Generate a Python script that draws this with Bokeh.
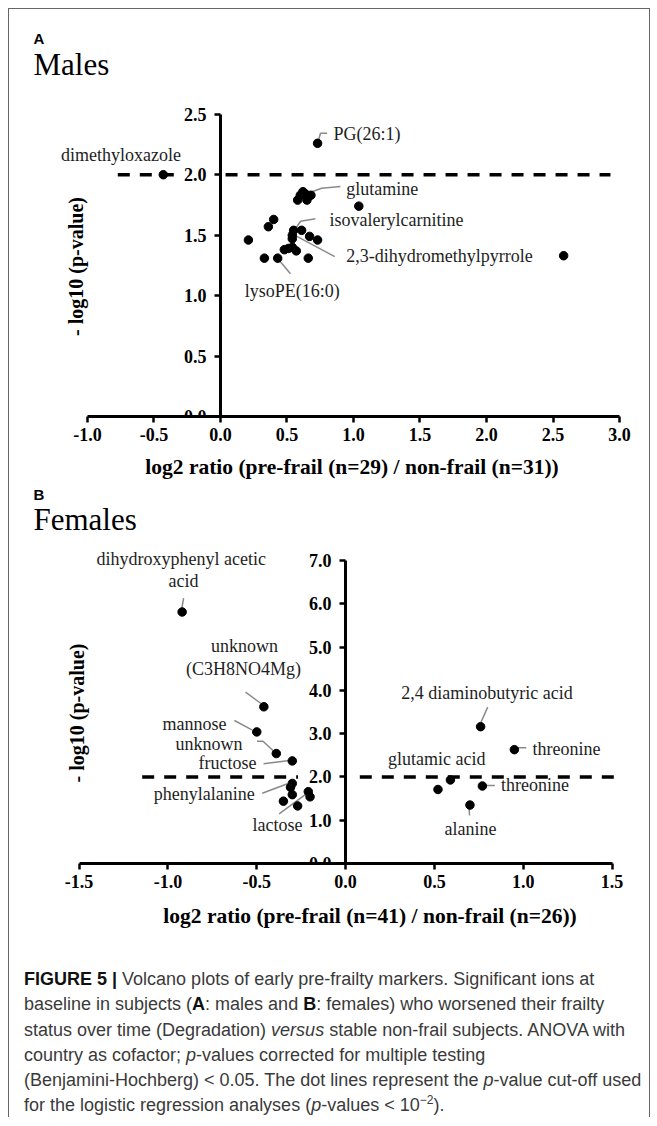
import math
from bokeh.plotting import figure
from bokeh.models import (Range1d, LinearAxis, FixedTicker, PrintfTickFormatter,
                          Label, Div, ColumnDataSource)
from bokeh.layouts import column
from bokeh.core.properties import value
from bokeh.embed import file_html
from bokeh.resources import INLINE

# ---------------- data ----------------
cutoff = 2.0  # -log10(0.01)

# Panel A: males, log2 ratio pre-frail (n=29) / non-frail (n=31)
males_log2 = [-0.43, 0.73, 0.62, 0.64, 0.68, 0.58, 0.65, 0.60, 1.04, 0.40, 0.36,
              0.21, 0.55, 0.54, 0.61, 0.67, 0.73, 0.51, 0.48, 0.57, 0.54, 0.33,
              0.43, 0.66, 2.58, 0.54]
males_nlogp = [2.00, 2.26, 1.86, 1.84, 1.83, 1.79, 1.79, 1.83, 1.74, 1.63, 1.57,
               1.46, 1.54, 1.50, 1.54, 1.49, 1.46, 1.39, 1.38, 1.37, 1.40, 1.31,
               1.31, 1.31, 1.33, 1.47]

# Panel B: females, log2 ratio pre-frail (n=41) / non-frail (n=26)
females_log2 = [-0.92, -0.46, -0.50, -0.39, -0.30, -0.30, -0.31, -0.30, -0.35,
                -0.27, -0.21, -0.20, 0.76, 0.95, 0.59, 0.52, 0.77, 0.70]
females_nlogp = [5.81, 3.62, 3.04, 2.54, 2.37, 1.85, 1.76, 1.59, 1.44,
                 1.33, 1.66, 1.54, 3.16, 2.63, 1.93, 1.71, 1.79, 1.35]

ticks_A_x = [-1.0, -0.5, 0.0, 0.5, 1.0, 1.5, 2.0, 2.5, 3.0]
ticks_A_y = [0.0, 0.5, 1.0, 1.5, 2.0, 2.5]
ticks_B_x = [-1.5, -1.0, -0.5, 0.0, 0.5, 1.0, 1.5]
ticks_B_y = [0.0, 1.0, 2.0, 3.0, 4.0, 5.0, 6.0, 7.0]

title_A = "Males"
title_B = "Females"
xlabel_A = "log2 ratio (pre-frail (n=29) / non-frail (n=31))"
xlabel_B = "log2 ratio (pre-frail (n=41) / non-frail (n=26))"
ylabel = "- log10 (p-value)"

# annotation labels: text, x, y, align, leader-line xs, leader-line ys
labels_A = [
    ("PG(26:1)", 0.850, 2.341, "left", [0.738, 0.752, 0.802], [2.29, 2.343, 2.343]),
    ("dimethyloxazole", -0.748, 2.167, "center", None, None),
    ("glutamine", 0.945, 1.878, "left", [0.647, 0.76, 0.902], [1.842, 1.888, 1.902]),
    ("isovalerylcarnitine", 0.820, 1.629, "left", [0.564, 0.602, 0.714], [1.553, 1.615, 1.635]),
    ("2,3-dihydromethylpyrrole", 0.945, 1.326, "left", [0.539, 0.859], [1.511, 1.323]),
    ("lysoPE(16:0)", 0.539, 1.042, "center", [0.438, 0.526], [1.296, 1.180]),
]
labels_B = [
    ("dihydroxyphenyl  acetic", -0.912, 7.039, "center", [-0.921, -0.912], [5.907, 6.128]),
    ("acid", -0.912, 6.537, "center", None, None),
    ("unknown", -0.569, 5.013, "center", None, None),
    ("(C3H8NO4Mg)", -0.575, 4.498, "center", [-0.563, -0.469], [3.957, 3.673]),
    ("mannose", -0.670, 3.227, "right", [-0.626, -0.527], [3.303, 3.088]),
    ("unknown", -0.580, 2.765, "right", [-0.499, -0.465, -0.398], [2.825, 2.825, 2.571]),
    ("fructose", -0.501, 2.326, "right", [-0.462, -0.316], [2.303, 2.379]),
    ("phenylalanine", -0.511, 1.610, "right", [-0.469, -0.327], [1.624, 1.841]),
    ("lactose", -0.383, 0.878, "center", [-0.374, -0.221], [1.148, 1.610]),
    ("2,4 diaminobutyric acid", 0.796, 3.943, "center", [0.800, 0.762], [3.611, 3.264]),
    ("threonine", 1.052, 2.650, "left", [0.962, 1.017], [2.673, 2.673]),
    ("glutamic acid", 0.513, 2.419, "center", None, None),
    ("threonine", 0.875, 1.802, "left", [0.769, 0.840], [1.802, 1.802]),
    ("alanine", 0.703, 0.802, "center", [0.694, 0.698], [1.317, 1.109]),
]
cut_segments_A = [(-0.772, -0.331), (0.038, 2.932)]
cut_segments_B = [(-1.145, -0.268), (0.08, 1.512)]

SERIF = "Liberation Serif"
SANS = "Liberation Sans"


def style_axis(ax, ticks, standoff):
    ax.ticker = FixedTicker(ticks=ticks)
    ax.formatter = PrintfTickFormatter(format="%.1f")
    ax.axis_line_width = 3
    ax.axis_line_color = "black"
    ax.major_tick_line_width = 2.5
    ax.major_tick_line_color = "black"
    ax.major_tick_in = 0
    ax.major_tick_out = 6
    ax.minor_tick_line_color = None
    ax.major_label_text_font = SERIF
    ax.major_label_text_font_style = "bold"
    ax.major_label_text_font_size = "18px"
    ax.major_label_text_color = "black"
    ax.major_label_standoff = standoff


def make_panel(frame_h, xr, yr, xb, yb, xt, yt):
    p = figure(frame_width=598, frame_height=frame_h,
               x_range=Range1d(*xr), y_range=Range1d(*yr),
               output_backend="svg", toolbar_location=None,
               x_axis_location=None, y_axis_location=None,
               min_border_left=41, min_border_right=1,
               min_border_top=0, min_border_bottom=34)
    p.grid.visible = False
    p.outline_line_color = None
    p.background_fill_color = "white"
    p.border_fill_color = "white"
    ya = LinearAxis(fixed_location=0, bounds=yb)
    style_axis(ya, yt, 8)
    p.add_layout(ya, "left")
    xa = LinearAxis(bounds=xb)
    style_axis(xa, xt, 5)
    p.add_layout(xa, "below")
    return p


def add_content(p, xs, ys, labels, segs, ylab_x, ylab_y):
    for (a, b) in segs:
        p.line([a, b], [cutoff, cutoff], line_color="black", line_width=3.5, line_dash="12 10")
    lx = [l[4] for l in labels if l[4] is not None]
    ly = [l[5] for l in labels if l[5] is not None]
    p.multi_line(lx, ly, line_color="#8a8a8a", line_width=1.5)
    p.scatter(xs, ys, marker="circle", size=8.5, fill_color="black", line_color="black")
    for align in ("left", "right", "center"):
        sel = [l for l in labels if l[3] == align]
        if not sel:
            continue
        src = ColumnDataSource(dict(x=[l[1] for l in sel], y=[l[2] for l in sel],
                                    t=[l[0] for l in sel]))
        p.text(x="x", y="y", text="t", source=src, text_align=align,
               text_baseline="middle", text_font=value(SERIF),
               text_font_size="18px", text_color="#1e1e1e")
    p.add_layout(Label(x=ylab_x, y=ylab_y, text=ylabel, text_font=SERIF,
                       text_font_size="20px", text_font_style="bold",
                       angle=math.pi / 2, text_align="center",
                       text_baseline="middle", text_color="black"))


# ---------------- panel A ----------------
pA = make_panel(316, (-1.278, 3.218), (0.0, 2.614),
                (-1.0, 3.0), (0.0, 2.5), ticks_A_x, ticks_A_y)
add_content(pA, males_log2, males_nlogp, labels_A, cut_segments_A, -1.087, 1.241)

# ---------------- panel B ----------------
pB = make_panel(323, (-1.661, 1.705), (0.0, 7.461),
                (-1.5, 1.5), (0.0, 7.0), ticks_B_x, ticks_B_y)
add_content(pB, females_log2, females_nlogp, labels_B, cut_segments_B, -1.511, 3.477)


# ---------------- html text blocks ----------------
def span(text, left, top, font, size, bold=False, center=False):
    tx = "-50%" if center else "0"
    return ('<span style="position:absolute;left:%spx;top:%spx;transform:translate(%s,-50%%);'
            'font-family:\'%s\';font-size:%s;font-weight:%s;line-height:1;white-space:nowrap;'
            'color:#000;">%s</span>' % (left, top, tx, font, size,
                                        "bold" if bold else "normal", text))


def block(h, inner):
    return ('<div style="position:relative;width:640px;height:%dpx;margin:0;padding:0;">%s</div>'
            % (h, inner))


hdrA = Div(width=640, height=91, margin=0, text=block(91,
           span("A", 24.5, 29, SANS, "15px", bold=True) +
           span(title_A, 24.5, 54.7, SERIF, "31px")))

midDiv = Div(width=640, height=90, margin=0, text=block(90,
             span(xlabel_A, 343, 18, SERIF, "21.5px", bold=True, center=True) +
             span("B", 24.5, 43.5, SANS, "15px", bold=True) +
             span(title_B, 24.5, 68.8, SERIF, "31px")))

cap_lines = [
    '<b style="color:#111">FIGURE 5 |</b> Volcano plots of early pre-frailty markers. Significant ions at',
    'baseline in subjects (<b style="color:#111">A</b>: males and <b style="color:#111">B</b>: females) who worsened their frailty',
    'status over time (Degradation) <i>versus</i> stable non-frail subjects. ANOVA with',
    'country as cofactor; <i>p</i>-values corrected for multiple testing',
    '(Benjamini-Hochberg) &lt; 0.05. The dot lines represent the <i>p</i>-value cut-off used',
    'for the logistic regression analyses (<i>p</i>-values &lt; 10<sup style="font-size:12px;line-height:0">&minus;2</sup>).',
]
cap_block = ('<div style="position:absolute;left:15px;top:70px;font-family:\'Liberation Sans\',Arial,sans-serif;'
             'font-size:18px;line-height:25.3px;color:#3a3a3a;white-space:nowrap;">'
             + "<br>".join(cap_lines) + "</div>")
capDiv = Div(width=640, height=220, margin=0, styles={"overflow": "hidden"}, text=block(220,
             span(xlabel_B, 361, 19.7, SERIF, "21.5px", bold=True, center=True) + cap_block))

layout = column(hdrA, pA, midDiv, pB, capDiv, spacing=0,
                styles={"margin-left": "8px", "margin-top": "8px",
                        "border-top": "1px solid #666", "border-left": "1px solid #666",
                        "border-right": "1px solid #666"})

open("out.html", "w").write(file_html(layout, INLINE))
